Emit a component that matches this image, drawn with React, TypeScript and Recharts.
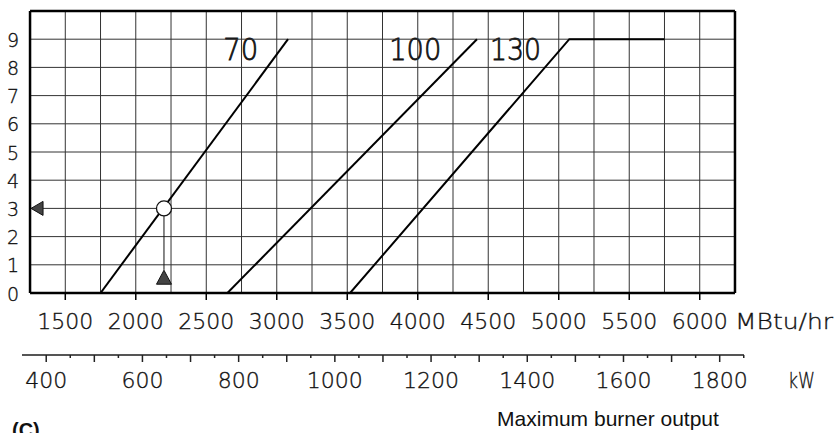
import React from 'react';
import { ComposedChart, Line, XAxis, YAxis, ReferenceLine, ReferenceArea, ReferenceDot } from 'recharts';

// ---- data ----
const MBH_PER_KW = 3.412;
const xDomain: [number, number] = [1193, 6314];
const boxX: [number, number] = [1250, 6250];
const boxY: [number, number] = [0, 10];

const mbhGrid = [1500, 1750, 2000, 2250, 2500, 2750, 3000, 3250, 3500, 3750, 4000, 4250, 4500, 4750, 5000, 5250, 5500, 5750, 6000];
const pressureGrid = [1, 2, 3, 4, 5, 6, 7, 8, 9];
const mbhTicks = [1500, 2000, 2500, 3000, 3500, 4000, 4500, 5000, 5500, 6000];
const pressureTicks = [0, 1, 2, 3, 4, 5, 6, 7, 8, 9];
const kwTicks = [400, 450, 500, 550, 600, 650, 700, 750, 800, 850, 900, 950, 1000, 1050, 1100, 1150, 1200, 1250, 1300, 1350, 1400, 1450, 1500, 1550, 1600, 1650, 1700, 1750, 1800, 1850];
const kwLabelled = [400, 600, 800, 1000, 1200, 1400, 1600, 1800];

const curve70 = [{ x: 1750, y: 0 }, { x: 3080, y: 9 }];
const curve100 = [{ x: 2650, y: 0 }, { x: 4420, y: 9 }];
const curve130 = [{ x: 3520, y: 0 }, { x: 5075, y: 9 }, { x: 5750, y: 9 }];
const curveNames = ['70', '100', '130'];

const example = { mbh: 2200, pressure: 3, markerTop: 0.82, markerMid: 0.56 };

const kwDomain: [number, number] = [xDomain[0] / MBH_PER_KW, xDomain[1] / MBH_PER_KW];
const kwAnchor = kwTicks.map((v) => ({ x: v, y: 0 }));

const FONT = 'DejaVu Sans';
const MBH = 'a1';
const KW = 'a2';

const thin = { fontFamily: FONT, fontWeight: 200, fill: '#111', stroke: '#111', strokeWidth: 0.35 };

const MbhTick = (p: any) => {
  const { x, y, payload } = p;
  return (
    <g>
      <line x1={x} x2={x} y1={y} y2={y + 7} stroke="#000" strokeWidth={1.5} />
      <text x={x} y={y + 36} textAnchor="middle" fontSize={22} {...thin}>
        {payload.value}
      </text>
    </g>
  );
};

const KwTick = (p: any) => {
  const { x, y, payload } = p;
  const v = payload.value;
  const len = v % 100 === 0 ? 7 : 3;
  return (
    <g>
      <line x1={x} x2={x} y1={y} y2={y + len} stroke="#222" strokeWidth={1.5} />
      {kwLabelled.includes(v) && (
        <text x={x} y={y + 33} textAnchor="middle" fontSize={22} {...thin}>
          {v}
        </text>
      )}
    </g>
  );
};

const PressureTick = (p: any) => {
  const { x, y, payload } = p;
  return (
    <text x={x - 9} y={y + 7.5} textAnchor="middle" fontSize={19} {...thin}>
      {payload.value}
    </text>
  );
};

const curveLabelShape = (text: string, len: number) => (p: any) => {
  const { x, y, width, height } = p;
  return (
    <g>
      <rect x={x} y={y} width={width} height={height} fill="#fff" />
      <text
        x={x + width / 2}
        y={y + 33}
        textAnchor="middle"
        fontSize={31}
        textLength={len}
        lengthAdjust="spacingAndGlyphs"
        {...thin}
        strokeWidth={0.8}
      >
        {text}
      </text>
    </g>
  );
};

const LeftArrow = (p: any) => {
  const { cx, cy } = p;
  return <path d={`M${cx + 1},${cy} L${cx + 13},${cy - 7} L${cx + 13},${cy + 7} Z`} fill="#444" stroke="#111" strokeWidth={1} />;
};

const UpTriangle = (p: any) => {
  const { cx, cy } = p;
  return <path d={`M${cx},${cy - 7} L${cx + 7.5},${cy + 7} L${cx - 7.5},${cy + 7} Z`} fill="#444" stroke="#111" strokeWidth={1} />;
};

const OpenCircle = (p: any) => {
  const { cx, cy } = p;
  return <circle cx={cx} cy={cy} r={7.5} fill="#fff" stroke="#111" strokeWidth={1.3} />;
};

const MbhAxisLabel = (p: any) => {
  const vb = p.viewBox || {};
  return (
    <text x={vb.x + vb.width - 9} y={vb.y + 36} fontSize={22} textLength={98} lengthAdjust="spacingAndGlyphs" {...thin}>
      MBtu/hr
    </text>
  );
};

const KwAxisLabel = (p: any) => {
  const vb = p.viewBox || {};
  return (
    <g>
      <text x={vb.x + vb.width + 44} y={vb.y + 33} fontSize={22} textLength={27} lengthAdjust="spacingAndGlyphs" {...thin}>
        kW
      </text>
      <text x={vb.x + vb.width - 136} y={vb.y + 71} textAnchor="middle" fontSize={21} fontFamily="Liberation Sans, Arial, sans-serif" fill="#111">
        Maximum burner output
      </text>
      <text x={12} y={437} fontSize={20} fontWeight="bold" fontFamily="Liberation Sans, Arial, sans-serif" fill="#111">
        (C)
      </text>
    </g>
  );
};

export default function App() {
  return (
    <div style={{ position: 'absolute', left: 0, top: 0, background: '#fff' }}>
      <ComposedChart width={835} height={433} margin={{ top: 11, right: 91, bottom: 38, left: 0 }}>
        <XAxis
          xAxisId={MBH}
          dataKey="x"
          type="number"
          domain={xDomain}
          allowDataOverflow
          ticks={mbhTicks}
          interval={0}
          axisLine={false}
          tickLine={false}
          tickSize={0}
          tickMargin={0}
          tick={MbhTick}
          height={62}
          label={{ content: MbhAxisLabel }}
        />
        <XAxis
          xAxisId={KW}
          dataKey="x"
          type="number"
          domain={kwDomain}
          allowDataOverflow
          ticks={kwTicks}
          interval={0}
          axisLine={{ stroke: '#555', strokeWidth: 2 }}
          tickLine={false}
          tickSize={0}
          tickMargin={0}
          tick={KwTick}
          height={40}
          label={{ content: KwAxisLabel }}
        />
        <YAxis
          type="number"
          domain={boxY}
          allowDataOverflow
          ticks={pressureTicks}
          interval={0}
          width={22}
          axisLine={false}
          tickLine={false}
          tickSize={0}
          tickMargin={0}
          tick={PressureTick}
        />

        {mbhGrid.map((v) => (
          <ReferenceLine key={'vx' + v} xAxisId={MBH} x={v} stroke="#333" strokeWidth={1} />
        ))}
        {pressureGrid.map((v) => (
          <ReferenceLine
            key={'hy' + v}
            xAxisId={MBH}
            segment={[{ x: boxX[0], y: v }, { x: boxX[1], y: v }]}
            stroke="#333"
            strokeWidth={1}
          />
        ))}

        <ReferenceArea xAxisId={MBH} x1={2550} x2={2940} y1={8.2} y2={9.45} shape={curveLabelShape(curveNames[0], 35)} />
        <ReferenceArea xAxisId={MBH} x1={3735} x2={4230} y1={8.2} y2={9.45} shape={curveLabelShape(curveNames[1], 52)} />
        <ReferenceArea xAxisId={MBH} x1={4460} x2={4925} y1={8.2} y2={9.45} shape={curveLabelShape(curveNames[2], 51)} />

        {/* box border */}
        <ReferenceLine xAxisId={MBH} segment={[{ x: boxX[0], y: boxY[1] }, { x: boxX[1], y: boxY[1] }]} stroke="#000" strokeWidth={2.5} />
        <ReferenceLine xAxisId={MBH} segment={[{ x: boxX[0], y: boxY[0] }, { x: boxX[1], y: boxY[0] }]} stroke="#000" strokeWidth={2.5} />
        <ReferenceLine xAxisId={MBH} x={boxX[0]} stroke="#000" strokeWidth={2.5} />
        <ReferenceLine xAxisId={MBH} x={boxX[1]} stroke="#000" strokeWidth={2.5} />

        <Line xAxisId={KW} data={kwAnchor} dataKey="y" type="linear" stroke="none" dot={false} activeDot={false} isAnimationActive={false} />
        <Line xAxisId={MBH} data={curve70} dataKey="y" type="linear" stroke="#000" strokeWidth={2} dot={false} isAnimationActive={false} />
        <Line xAxisId={MBH} data={curve100} dataKey="y" type="linear" stroke="#000" strokeWidth={2} dot={false} isAnimationActive={false} />
        <Line xAxisId={MBH} data={curve130} dataKey="y" type="linear" stroke="#000" strokeWidth={2} dot={false} isAnimationActive={false} />

        <ReferenceLine
          xAxisId={MBH}
          segment={[{ x: example.mbh, y: example.pressure }, { x: example.mbh, y: example.markerTop }]}
          stroke="#111"
          strokeWidth={1}
        />
        <ReferenceDot xAxisId={MBH} x={example.mbh} y={example.pressure} shape={OpenCircle} />
        <ReferenceDot xAxisId={MBH} x={example.mbh} y={example.markerMid} shape={UpTriangle} />
        <ReferenceDot xAxisId={MBH} x={boxX[0]} y={example.pressure} shape={LeftArrow} />
      </ComposedChart>
    </div>
  );
}
